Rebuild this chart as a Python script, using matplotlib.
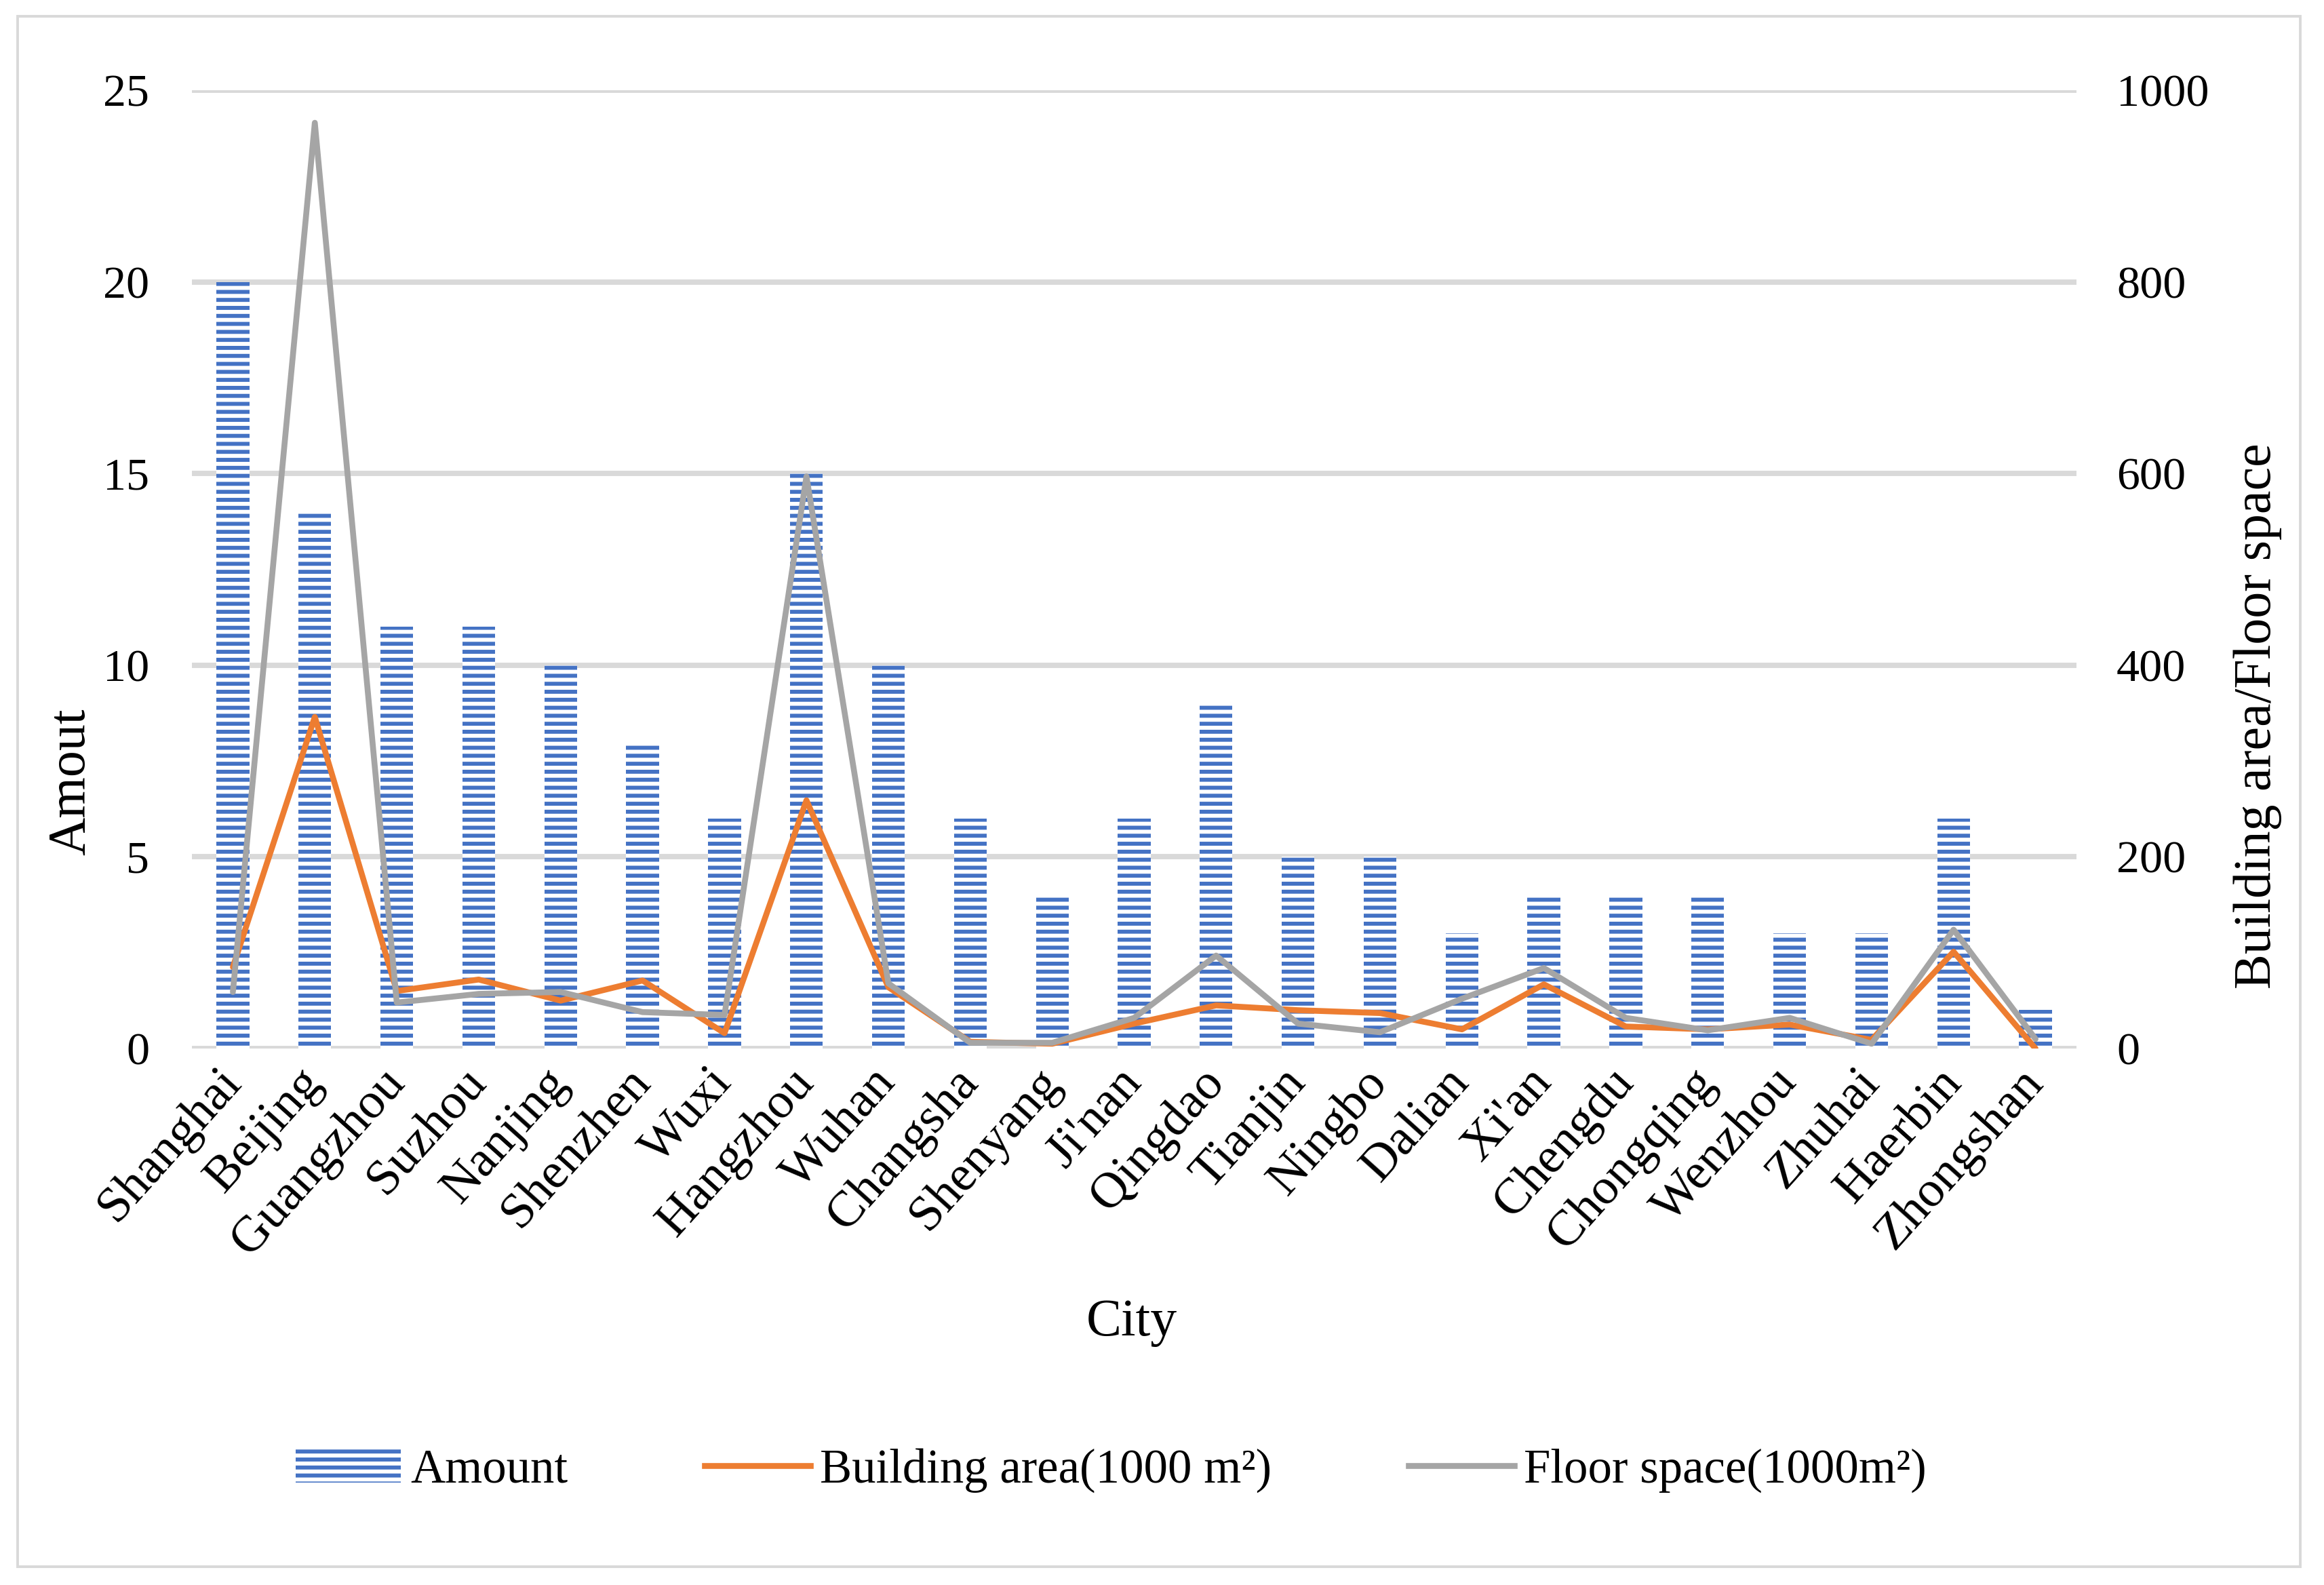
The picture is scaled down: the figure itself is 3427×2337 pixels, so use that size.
import matplotlib
matplotlib.use("Agg")
import matplotlib.pyplot as plt
from matplotlib.patches import Patch, Rectangle
from matplotlib.lines import Line2D
import numpy as np

cities = ["Shanghai", "Beijing", "Guangzhou", "Suzhou", "Nanjing", "Shenzhen", "Wuxi",
          "Hangzhou", "Wuhan", "Changsha", "Shenyang", "Ji'nan", "Qingdao", "Tianjin",
          "Ningbo", "Dalian", "Xi'an", "Chengdu", "Chongqing", "Wenzhou", "Zhuhai",
          "Haerbin", "Zhongshan"]
amount = [20, 14, 11, 11, 10, 8, 6, 15, 10, 6, 4, 6, 9, 5, 5, 3, 4, 4, 4, 3, 3, 6, 1]
building_area = [85, 346, 60, 72, 50, 71, 16, 259, 64, 7, 5, 26, 45, 40, 37, 20, 67, 23,
                 20, 25, 9, 101, 0]
floor_space = [59, 966, 48, 57, 59, 38, 35, 597, 68, 6, 6, 32, 97, 26, 17, 52, 84, 32,
               19, 32, 5, 124, 10]
left_ticks = [0, 5, 10, 15, 20, 25]
right_ticks = [0, 200, 400, 600, 800, 1000]

DPI = 283
W, H = 3427, 2337
plt.rcParams['font.family'] = ['Liberation Serif', 'DejaVu Serif']
plt.rcParams['hatch.linewidth'] = 1.5

BLUE = '#4472C4'
ORANGE = '#ED7D31'
GRAY = '#A5A5A5'
GRID = '#D9D9D9'

fig = plt.figure(figsize=(W / DPI, H / DPI), dpi=DPI)
ax = fig.add_axes([283 / W, 1 - 1546 / H, (3062 - 283) / W, (1546 - 133) / H])
ax2 = ax.twinx()

x = np.arange(len(cities))
ax.bar(x, amount, width=0.4, facecolor='white', edgecolor=BLUE, linewidth=0,
       hatch='----', zorder=2)
ax.set_ylim(0, 25)
ax.set_xlim(-0.5, len(cities) - 0.5)
ax.set_yticks(left_ticks)
ax.yaxis.grid(True, color=GRID, linewidth=2.0)
ax.set_axisbelow(True)

ax2.plot(x, building_area, color=ORANGE, linewidth=2.2, solid_joinstyle='round',
         solid_capstyle='round')
ax2.plot(x, floor_space, color=GRAY, linewidth=2.2, solid_joinstyle='round',
         solid_capstyle='round')
ax2.set_ylim(0, 1000)
ax2.set_yticks(right_ticks)

for a in (ax, ax2):
    for s in a.spines.values():
        s.set_visible(False)

ax.tick_params(axis='y', length=0, pad=16, labelsize=17.3)
ax2.tick_params(axis='y', length=0, pad=15, labelsize=17.3)
ax.set_xticks(x)
ax.set_xticklabels(cities, rotation=48, ha='right', va='center',
                   rotation_mode='anchor', fontsize=19)
ax.tick_params(axis='x', length=0, pad=10)

fig.text(105 / W, 1 - 1153 / H, 'Amout', rotation=90, ha='center', va='center',
         fontsize=19.8)
fig.text(3329 / W, 1 - 1056 / H, 'Building area/Floor space', rotation=90,
         ha='center', va='center', fontsize=19.8)
fig.text(1669 / W, 1 - 1950 / H, 'City', ha='center', va='center', fontsize=19.8)

handles = [
    Patch(facecolor='white', edgecolor=BLUE, linewidth=0, hatch='----'),
    Line2D([0], [0], color=ORANGE, linewidth=2.2),
    Line2D([0], [0], color=GRAY, linewidth=2.2),
]
labels = ['Amount', 'Building area(1000 m²)', 'Floor space(1000m²)']
fig.legend(handles, labels, loc='center', bbox_to_anchor=(0.478, 1 - 2168 / H),
           ncol=3, frameon=False, fontsize=18, handlelength=2.2,
           handletextpad=0.2, columnspacing=2.85, borderpad=0)

fig.patches.append(Rectangle((26 / W, 1 - 2310 / H), (3392 - 26) / W, (2310 - 24) / H,
                             transform=fig.transFigure, fill=False,
                             edgecolor=GRID, linewidth=1.0))

fig.savefig('out.png', dpi=DPI)
